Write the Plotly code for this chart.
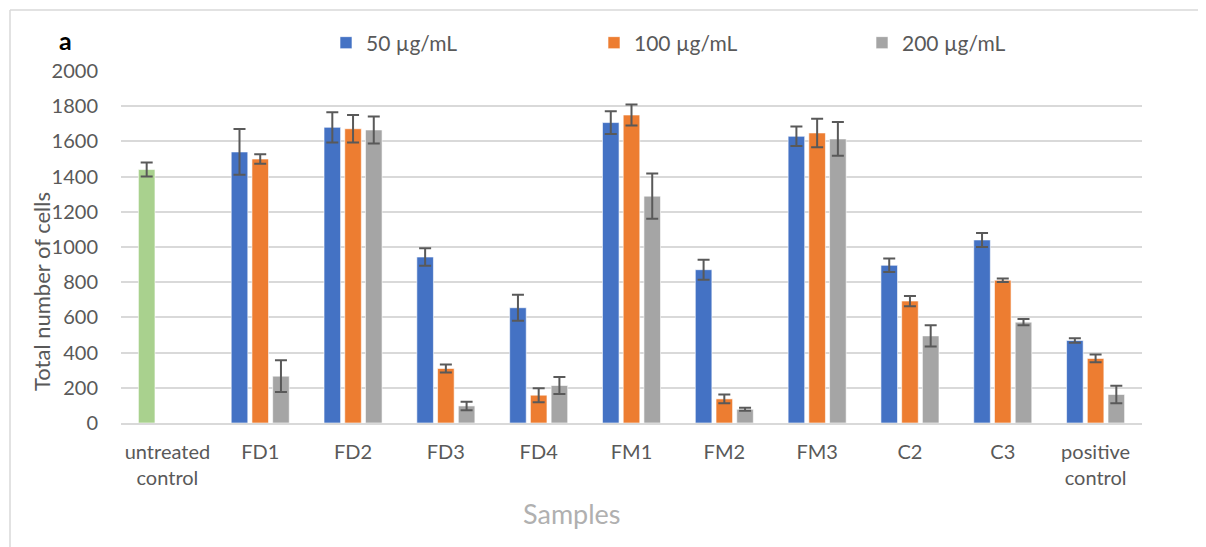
import plotly.graph_objects as go

categories = ["untreated<br>control", "FD1", "FD2", "FD3", "FD4", "FM1", "FM2", "FM3", "C2", "C3", "positive<br>control"]
series_names = ["50 µg/mL", "100 µg/mL", "200 µg/mL"]

untreated_value = [1440]
untreated_err = [40]

vals_50 = [None, 1540, 1680, 943, 655, 1707, 871, 1629, 896, 1040, 469]
err_50 = [0, 130, 86, 50, 74, 65, 57, 55, 38, 40, 13]
vals_100 = [None, 1500, 1672, 310, 158, 1750, 137, 1648, 693, 811, 367]
err_100 = [0, 27, 78, 23, 40, 60, 25, 81, 29, 10, 22]
vals_200 = [None, 266, 1665, 97, 213, 1289, 78, 1614, 495, 573, 162]
err_200 = [0, 90, 77, 24, 48, 128, 8, 96, 60, 18, 50]

colors = ["#4472C4", "#ED7D31", "#A5A5A5"]
green = "#A9D18E"
err_color = "#595959"
FONT = "Lato"

fig = go.Figure()
for name, v, e, c, og in zip(series_names, [vals_50, vals_100, vals_200],
                             [err_50, err_100, err_200], colors, ["a", "b", "c"]):
    fig.add_trace(go.Bar(
        x=categories, y=v, name=name, offsetgroup=og,
        marker=dict(color=c, line=dict(color="rgba(255,255,255,0.6)", width=1)),
        error_y=dict(type="data", array=e, color=err_color, thickness=2, width=6, visible=True),
    ))

fig.add_trace(go.Bar(
    x=categories[:1], y=untreated_value, name="untreated control", offsetgroup="a",
    showlegend=False,
    marker=dict(color=green, line=dict(color="rgba(255,255,255,0.6)", width=1)),
    error_y=dict(type="data", array=untreated_err, color=err_color, thickness=2, width=6, visible=True),
))

# page body has an 8px margin; work in screen pixels and convert
OFF = 8
SW, SH = 1206, 547
W, H = SW - OFF, SH - OFF
# plot area in screen pixels
PL, PR, PT, PB = 121, 1142, 71, 423
L, R, T, B = PL - OFF, W - (PR - OFF), PT - OFF, H - (PB - OFF)
pw, ph = W - L - R, H - T - B

def px_x(p):
    return (p - OFF - L) / pw

def px_y(p):
    return (H - B - (p - OFF)) / ph

fig.update_layout(
    width=W, height=H,
    margin=dict(l=L, r=R, t=T, b=B, autoexpand=False),
    paper_bgcolor="white", plot_bgcolor="white",
    barmode="group", bargap=0.33, bargroupgap=0.2,
    font=dict(family=FONT, color="#595959"),
    legend=dict(orientation="h", x=px_x(326), y=px_y(43), xanchor="left", yanchor="middle",
                font=dict(size=21, color="#595959"), entrywidth=223, entrywidthmode="pixels",
                bgcolor="rgba(0,0,0,0)"),
    xaxis=dict(tickfont=dict(size=20, color="#595959"), showgrid=False,
               showline=True, linecolor="#D9D9D9", linewidth=2, ticks="",
               ticklabelstandoff=10),
    yaxis=dict(range=[0, 2000], dtick=200, tickfont=dict(size=20, color="#595959"),
               showgrid=True, gridcolor="#D9D9D9", gridwidth=2, zeroline=False,
               ticklabelstandoff=22, showline=False),
    annotations=[
        dict(text="<b>a</b>", x=px_x(65), y=px_y(40), xref="paper", yref="paper",
             xanchor="center", yanchor="middle",
             showarrow=False, font=dict(size=25, color="black", family=FONT)),
        dict(text="Total number of cells", textangle=-90, x=px_x(41), y=px_y(292),
             xref="paper", yref="paper", xanchor="center", yanchor="middle",
             showarrow=False, font=dict(size=22, color="#595959", family=FONT)),
        dict(text="Samples", x=px_x(572), y=px_y(513), xref="paper", yref="paper",
             xanchor="center", yanchor="middle",
             showarrow=False, font=dict(size=27, color="#B0B0B0", family=FONT)),
    ],
    shapes=[
        dict(type="line", xref="paper", yref="paper", x0=px_x(10), x1=px_x(1206), y0=px_y(10), y1=px_y(10),
             line=dict(color="#D9D9D9", width=1.5)),
        dict(type="line", xref="paper", yref="paper", x0=px_x(10), x1=px_x(10), y0=px_y(10), y1=px_y(547),
             line=dict(color="#D9D9D9", width=1.5)),
    ],
)

fig.write_html("out.html")
